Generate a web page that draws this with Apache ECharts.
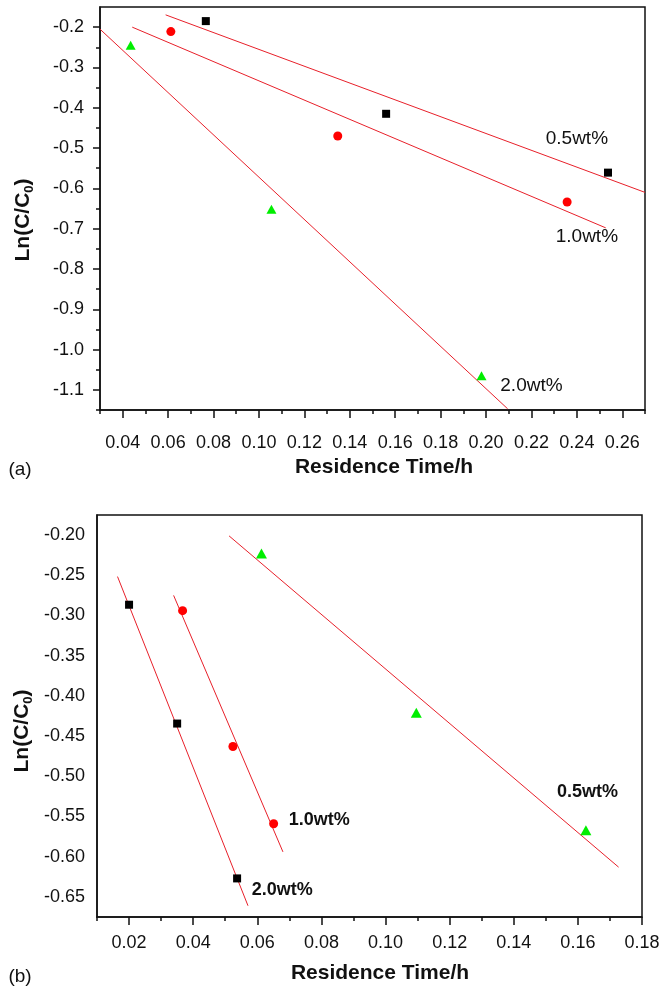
<!DOCTYPE html>
<html>
<head>
<meta charset="utf-8">
<style>
  html, body { margin: 0; padding: 0; background: #fff; }
  #chart { width: 663px; height: 988px; }
</style>
<script src="https://cdn.jsdelivr.net/npm/echarts@6/dist/echarts.min.js"></script>
</head>
<body>
<div id="chart"></div>
<script>
// ---- Panel (a): ln(C/C0) vs residence time, three loadings ----
const topSquares   = [[0.0766, -0.185], [0.156, -0.415], [0.2537, -0.561]];   // 0.5wt%
const topCircles   = [[0.0612, -0.211], [0.1347, -0.470], [0.2357, -0.634]];  // 1.0wt%
const topTriangles = [[0.0435, -0.245], [0.1055, -0.652], [0.198, -1.065]];   // 2.0wt%
const topFit05 = [[0.0589, -0.1695], [0.27, -0.610]];
const topFit10 = [[0.0442, -0.200], [0.2527, -0.698]];
const topFit20 = [[0.030, -0.205], [0.2095, -1.147]];
const topNotes = [
  { text: '0.5wt%', at: [0.240, -0.478] },
  { text: '1.0wt%', at: [0.2444, -0.720] },
  { text: '2.0wt%', at: [0.220, -1.091] }
];
const topXTicks = [0.04, 0.06, 0.08, 0.10, 0.12, 0.14, 0.16, 0.18, 0.20, 0.22, 0.24, 0.26];
const topXMinor = [0.03, 0.05, 0.07, 0.09, 0.11, 0.13, 0.15, 0.17, 0.19, 0.21, 0.23, 0.25, 0.27];
const topYTicks = [-1.1, -1.0, -0.9, -0.8, -0.7, -0.6, -0.5, -0.4, -0.3, -0.2];
const topYMinor = [-1.15, -1.05, -0.95, -0.85, -0.75, -0.65, -0.55, -0.45, -0.35, -0.25];

// ---- Panel (b) ----
const botSquares   = [[0.0200, -0.2866], [0.0350, -0.4344], [0.0537, -0.627]]; // 2.0wt%
const botCircles   = [[0.0367, -0.294], [0.0524, -0.463], [0.0651, -0.559]];   // 1.0wt%
const botTriangles = [[0.0613, -0.223], [0.1096, -0.421], [0.1625, -0.567]];   // 0.5wt%
const botFit20 = [[0.0164, -0.2516], [0.0571, -0.661]];
const botFit10 = [[0.0339, -0.275], [0.068, -0.594]];
const botFit05 = [[0.0512, -0.201], [0.1727, -0.613]];
const botNotes = [
  { text: '1.0wt%', at: [0.0793, -0.554] },
  { text: '2.0wt%', at: [0.0678, -0.6417] },
  { text: '0.5wt%', at: [0.163, -0.5198] }
];
const botXTicks = [0.02, 0.04, 0.06, 0.08, 0.10, 0.12, 0.14, 0.16, 0.18];
const botXMinor = [0.01, 0.03, 0.05, 0.07, 0.09, 0.11, 0.13, 0.15, 0.17];
const botYTicks = [-0.65, -0.60, -0.55, -0.50, -0.45, -0.40, -0.35, -0.30, -0.25, -0.20];

const FONT = '"Liberation Sans", Arial, Helvetica, sans-serif';
const INK = '#111111';
const FIT_RED = '#e8202a';

const chart = echarts.init(document.getElementById('chart'), null, { renderer: 'canvas' });

function axisLine() {
  return { show: true, lineStyle: { color: INK, width: 1.5 } };
}

function xMajor(grid, min, max, ticks, margin) {
  return {
    type: 'value', gridIndex: grid, min: min, max: max, position: 'bottom',
    axisLine: axisLine(),
    splitLine: { show: false },
    axisTick: { show: true, inside: false, length: 8, customValues: ticks, lineStyle: { color: INK, width: 1.5 } },
    axisLabel: { show: true, customValues: ticks, margin: margin, fontSize: 18, color: INK, fontFamily: FONT,
                 formatter: v => v.toFixed(2) }
  };
}
function xMinor(grid, min, max, ticks) {
  return {
    type: 'value', gridIndex: grid, min: min, max: max, position: 'bottom',
    axisLine: { show: false }, splitLine: { show: false },
    axisTick: { show: true, length: 4, customValues: ticks, lineStyle: { color: INK, width: 1.5 } },
    axisLabel: { show: false }
  };
}

function scatter(name, data, x, y, symbol, size, color) {
  return {
    type: 'scatter', name: name, xAxisIndex: x, yAxisIndex: y, data: data,
    symbol: symbol, symbolSize: size, itemStyle: { color: color, opacity: 1 }, z: 5, silent: true
  };
}
function fit(data, x, y) {
  return {
    type: 'line', xAxisIndex: x, yAxisIndex: y, data: data, showSymbol: false, symbol: 'none',
    lineStyle: { color: FIT_RED, width: 1 }, z: 3, silent: true, animation: false
  };
}
function notes(list, x, y, bold, size) {
  return {
    type: 'scatter', xAxisIndex: x, yAxisIndex: y, symbolSize: 1, silent: true,
    itemStyle: { color: 'rgba(0,0,0,0)', opacity: 1 },
    data: list.map(n => ({ value: n.at, name: n.text })),
    label: { show: true, position: 'inside', formatter: p => p.name, opacity: 1,
             textBorderWidth: 0, textShadowBlur: 0,
             fontSize: size, fontWeight: bold ? 'bold' : 'normal', color: INK, fontFamily: FONT },
    z: 6
  };
}

const yTitleRich = {
  a: { fontSize: 21, fontWeight: 'bold', fontFamily: FONT, fill: INK, lineHeight: 26, verticalAlign: 'middle' },
  s: { fontSize: 13, fontWeight: 'bold', fontFamily: FONT, fill: INK, lineHeight: 13, verticalAlign: 'bottom' }
};

const option = {
  backgroundColor: '#fff',
  animation: false,
  grid: [
    { left: 100, top: 7, right: 18, bottom: 578, show: true, borderColor: INK, borderWidth: 1.5, containLabel: false },
    { left: 97, top: 515, right: 21, bottom: 71, show: true, borderColor: INK, borderWidth: 1.5, containLabel: false }
  ],
  xAxis: [
    xMajor(0, 0.03, 0.27, topXTicks, 24),
    xMinor(0, 0.03, 0.27, topXMinor),
    xMajor(1, 0.01, 0.18, botXTicks, 17),
    xMinor(1, 0.01, 0.18, botXMinor)
  ],
  yAxis: [
    {
      type: 'value', gridIndex: 0, min: -1.15, max: -0.15, position: 'left',
      axisLine: axisLine(), splitLine: { show: false },
      axisTick: { show: true, length: 7, customValues: topYTicks, lineStyle: { color: INK, width: 1.5 } },
      axisLabel: { show: true, customValues: topYTicks, margin: 16, fontSize: 18, color: INK, fontFamily: FONT,
                   formatter: v => v.toFixed(1) }
    },
    {
      type: 'value', gridIndex: 0, min: -1.15, max: -0.15, position: 'left',
      axisLine: { show: false }, splitLine: { show: false },
      axisTick: { show: true, length: 4, customValues: topYMinor, lineStyle: { color: INK, width: 1.5 } },
      axisLabel: { show: false }
    },
    {
      type: 'value', gridIndex: 1, min: -0.675, max: -0.175, position: 'left',
      axisLine: axisLine(), splitLine: { show: false },
      axisTick: { show: false },
      axisLabel: { show: true, customValues: botYTicks, margin: 12, fontSize: 18, color: INK, fontFamily: FONT,
                   formatter: v => v.toFixed(2) }
    }
  ],
  series: [
    fit(topFit05, 0, 0), fit(topFit10, 0, 0), fit(topFit20, 0, 0),
    scatter('0.5wt%', topSquares, 0, 0, 'rect', 8, '#000000'),
    scatter('1.0wt%', topCircles, 0, 0, 'circle', 9, '#ff0000'),
    scatter('2.0wt%', topTriangles, 0, 0, 'triangle', [10, 9], '#00ee00'),
    notes(topNotes, 0, 0, false, 19),

    fit(botFit20, 2, 2), fit(botFit10, 2, 2), fit(botFit05, 2, 2),
    scatter('2.0wt%', botSquares, 2, 2, 'rect', 8, '#000000'),
    scatter('1.0wt%', botCircles, 2, 2, 'circle', 9, '#ff0000'),
    scatter('0.5wt%', botTriangles, 2, 2, 'triangle', [11, 10], '#00ee00'),
    notes(botNotes, 2, 2, true, 18)
  ],
  graphic: [
    { type: 'text', x: 384, y: 467, silent: true,
      style: { text: 'Residence Time/h', fontSize: 21, fontWeight: 'bold', fontFamily: FONT, fill: INK,
               align: 'center', verticalAlign: 'middle' } },
    { type: 'text', x: 380, y: 973, silent: true,
      style: { text: 'Residence Time/h', fontSize: 21, fontWeight: 'bold', fontFamily: FONT, fill: INK,
               align: 'center', verticalAlign: 'middle' } },
    { type: 'text', x: 23, y: 220, rotation: Math.PI / 2, silent: true,
      style: { text: '{a|Ln(C/C}{s|0}{a|)}', rich: yTitleRich, align: 'center', verticalAlign: 'middle' } },
    { type: 'text', x: 22, y: 731, rotation: Math.PI / 2, silent: true,
      style: { text: '{a|Ln(C/C}{s|0}{a|)}', rich: yTitleRich, align: 'center', verticalAlign: 'middle' } },
    { type: 'text', x: 20, y: 470, silent: true,
      style: { text: '(a)', fontSize: 19, fontFamily: FONT, fill: INK, align: 'center', verticalAlign: 'middle' } },
    { type: 'text', x: 20, y: 977, silent: true,
      style: { text: '(b)', fontSize: 19, fontFamily: FONT, fill: INK, align: 'center', verticalAlign: 'middle' } }
  ]
};

chart.setOption(option);
</script>
</body>
</html>
